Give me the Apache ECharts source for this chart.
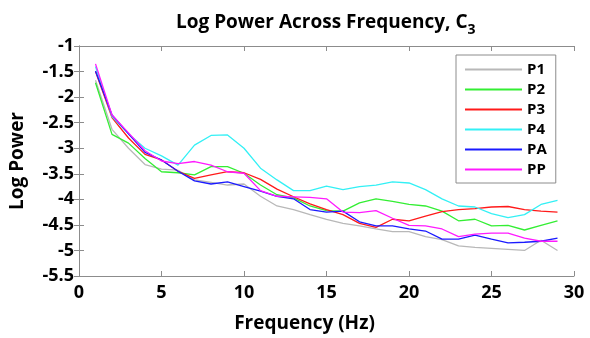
<!DOCTYPE html>
<html>
<head>
<meta charset="utf-8">
<script src="https://cdn.jsdelivr.net/npm/echarts@6/dist/echarts.min.js"></script>
<style>html,body{margin:0;padding:0;background:#fff}#c{width:590px;height:338px}</style>
</head>
<body>
<div id="c"></div>
<script>
const freqs = [1,2,3,4,5,6,7,8,9,10,11,12,13,14,15,16,17,18,19,20,21,22,23,24,25,26,27,28,29];
const seriesNames = ['P1','P2','P3','P4','PA','PP'];
const P1 = [-1.67,-2.63,-3.00,-3.32,-3.41,-3.43,-3.62,-3.67,-3.72,-3.70,-3.94,-4.13,-4.20,-4.30,-4.39,-4.47,-4.52,-4.58,-4.63,-4.63,-4.73,-4.79,-4.91,-4.94,-4.96,-4.98,-5.00,-4.80,-5.00];
const P2 = [-1.72,-2.73,-2.90,-3.20,-3.46,-3.48,-3.52,-3.36,-3.36,-3.49,-3.72,-3.91,-3.97,-4.13,-4.22,-4.23,-4.07,-3.99,-4.04,-4.10,-4.13,-4.23,-4.42,-4.39,-4.52,-4.51,-4.60,-4.51,-4.42];
const P3 = [-1.50,-2.40,-2.80,-3.12,-3.23,-3.45,-3.59,-3.52,-3.46,-3.48,-3.61,-3.80,-3.95,-4.09,-4.20,-4.30,-4.47,-4.55,-4.39,-4.42,-4.33,-4.24,-4.20,-4.18,-4.15,-4.14,-4.20,-4.23,-4.25];
const P4 = [-1.40,-2.38,-2.72,-3.00,-3.15,-3.33,-2.94,-2.75,-2.74,-3.00,-3.39,-3.62,-3.83,-3.83,-3.74,-3.81,-3.75,-3.72,-3.66,-3.68,-3.81,-3.99,-4.13,-4.15,-4.28,-4.36,-4.30,-4.10,-4.02];
const PA = [-1.49,-2.35,-2.72,-3.08,-3.23,-3.45,-3.64,-3.70,-3.66,-3.75,-3.84,-3.94,-3.99,-4.20,-4.25,-4.23,-4.44,-4.52,-4.52,-4.58,-4.62,-4.78,-4.78,-4.70,-4.78,-4.85,-4.84,-4.82,-4.76];
const PP = [-1.35,-2.35,-2.70,-3.05,-3.25,-3.30,-3.26,-3.33,-3.46,-3.49,-3.83,-3.94,-3.95,-3.96,-3.99,-4.25,-4.26,-4.22,-4.37,-4.51,-4.52,-4.58,-4.73,-4.68,-4.66,-4.66,-4.76,-4.82,-4.82];
const allValues = [P1,P2,P3,P4,PA,PP];
const colors = ['#b8b8b8','#33ee33','#ff1a1a','#33f0f5','#1a1aff','#ff1aff'];
const xTicks = {min:0, max:30, interval:5};
const yTicks = {min:-5.5, max:-1, interval:0.5};

const FONT = 'Open Sans';
const axisColor = '#8c8c8c';
const chart = echarts.init(document.getElementById('c'), null, {renderer:'canvas'});
const series = seriesNames.map((n,i)=>({
  name:n, type:'line', symbol:'none', xAxisIndex:0, yAxisIndex:0,
  data: freqs.map((f,j)=>[f, allValues[i][j]]),
  lineStyle:{color:colors[i], width:1.3}, itemStyle:{color:colors[i]},
  animation:false
}));
const baseX = {type:'value', min:xTicks.min, max:xTicks.max, interval:xTicks.interval,
  axisLine:{show:true, lineStyle:{color:axisColor, width:1}},
  axisTick:{show:true, inside:true, length:5, lineStyle:{color:axisColor}},
  splitLine:{show:false}};
const baseY = {type:'value', min:yTicks.min, max:yTicks.max, interval:yTicks.interval,
  axisLine:{show:true, lineStyle:{color:axisColor, width:1}},
  axisTick:{show:true, inside:true, length:5, lineStyle:{color:axisColor}},
  splitLine:{show:false}};
chart.setOption({
  animation:false,
  backgroundColor:'#fff',
  title:{
    text:'Log Power Across Frequency, C{s|3}',
    left:176, top:4, padding:[5,0,5,0],
    textStyle:{fontFamily:FONT, fontWeight:'bold', fontSize:19, color:'#000', lineHeight:28,
      rich:{s:{fontFamily:FONT, fontWeight:'bold', fontSize:14, color:'#000', lineHeight:14, verticalAlign:'bottom'}}}
  },
  legend:{
    show:true, orient:'vertical', left:456, top:55,
    data:seriesNames,
    itemWidth:57, itemHeight:14, itemGap:5, padding:[7,9,6,8],
    borderColor:'#8c8c8c', borderWidth:1, backgroundColor:'#fff',
    itemStyle:{opacity:0},
    textStyle:{fontFamily:FONT, fontWeight:'bold', fontSize:15, color:'#000'}
  },
  grid:{left:78, right:16, top:46, bottom:59, containLabel:false},
  xAxis:[
    Object.assign({}, baseX, {position:'bottom', name:'Frequency (Hz)', nameLocation:'middle', nameGap:38,
      nameTextStyle:{fontFamily:FONT, fontWeight:'bold', fontSize:19, color:'#000', padding:[0,44,0,0]},
      axisLabel:{show:true, fontFamily:FONT, fontWeight:'bold', fontSize:18, color:'#000', margin:8}}),
    Object.assign({}, baseX, {position:'top', axisLabel:{show:false}})
  ],
  yAxis:[
    Object.assign({}, baseY, {position:'left', name:'Log Power', nameLocation:'middle', nameGap:52,
      nameTextStyle:{fontFamily:FONT, fontWeight:'bold', fontSize:19, color:'#000'},
      axisLabel:{show:true, fontFamily:FONT, fontWeight:'bold', fontSize:18, color:'#000', margin:5}}),
    Object.assign({}, baseY, {position:'right', axisLabel:{show:false}})
  ],
  series: series
});
</script>
</body>
</html>
